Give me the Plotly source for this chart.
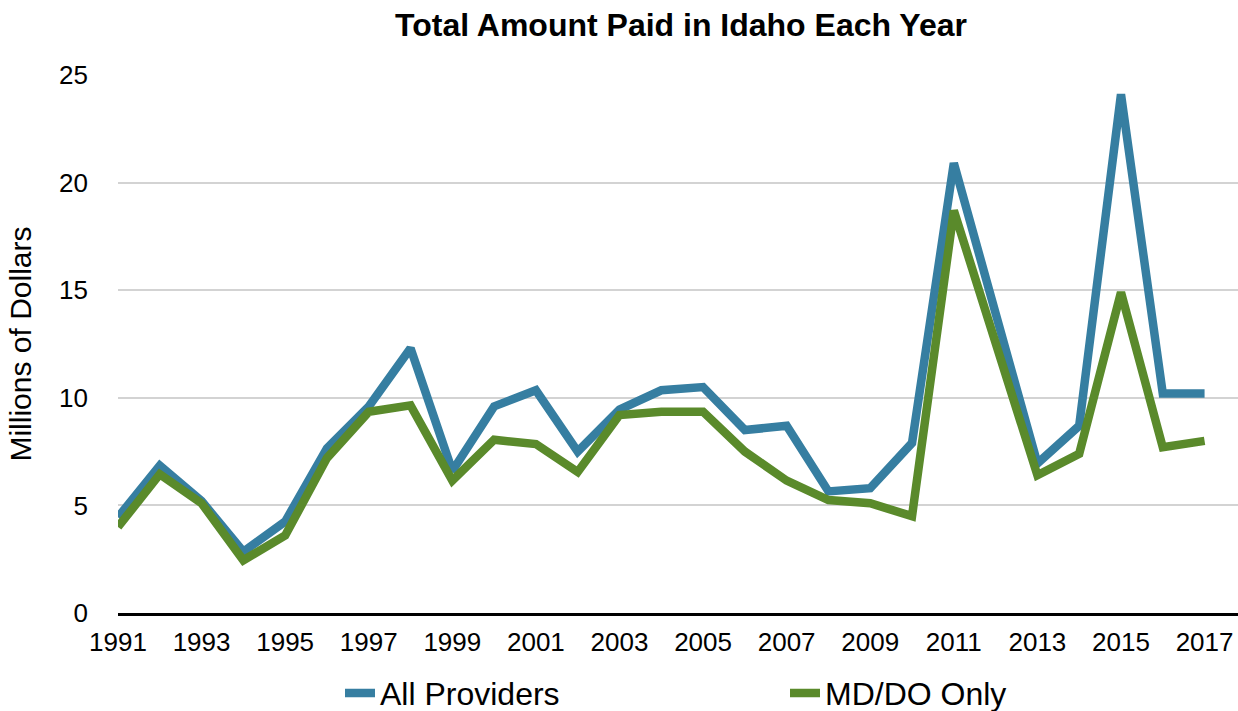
import plotly.graph_objects as go

years = list(range(1991, 2018))
all_providers = [4.45, 6.85, 5.2, 2.85, 4.25, 7.65, 9.6, 12.3, 6.6, 9.6,
                 10.35, 7.5, 9.45, 10.35, 10.5, 8.5, 8.7, 5.65, 5.8, 7.9,
                 20.9, 13.9, 6.95, 8.7, 24.1, 10.2, 10.2]
md_do_only = [4.0, 6.45, 5.1, 2.45, 3.6, 7.2, 9.35, 9.65, 6.15, 8.05,
              7.85, 6.55, 9.2, 9.35, 9.35, 7.5, 6.15, 5.25, 5.1, 4.5,
              18.7, 12.5, 6.4, 7.4, 14.9, 7.7, 8.0]
x_ticks = list(range(1991, 2018, 2))
y_ticks = [0, 5, 10, 15, 20, 25]

FONT = "Helvetica, Liberation Sans, Arial, sans-serif"
BLUE = "#367EA1"
GREEN = "#5A8A2B"

fig = go.Figure()
fig.add_trace(go.Scatter(x=years, y=all_providers, mode="lines", name="All Providers",
                         line=dict(color=BLUE, width=8.5), legend="legend"))
fig.add_trace(go.Scatter(x=years, y=md_do_only, mode="lines", name="MD/DO Only",
                         line=dict(color=GREEN, width=8.5), legend="legend2"))

legend_font = dict(family=FONT, size=32, color="black")
fig.update_layout(
    width=1238, height=711,
    margin=dict(l=118, r=0, t=75, b=98, autoexpand=False),
    paper_bgcolor="white", plot_bgcolor="white",
    font=dict(family=FONT, size=24, color="black"),
    title=dict(text="<b>Total Amount Paid in Idaho Each Year</b>",
               x=(681 / 1238), xanchor="center", y=1 - 25 / 711, yanchor="middle",
               font=dict(family=FONT, size=32, color="black")),
    showlegend=True,
    legend=dict(x=(340 - 118) / 1120, xanchor="left", y=-0.149, yanchor="middle",
                font=legend_font, bgcolor="rgba(0,0,0,0)"),
    legend2=dict(x=(785 - 118) / 1120, xanchor="left", y=-0.149, yanchor="middle",
                 font=legend_font, bgcolor="rgba(0,0,0,0)"),
    xaxis=dict(range=[1991, 2017.8], tickvals=x_ticks, ticktext=[str(t) for t in x_ticks],
               showgrid=False, showline=True, linecolor="black", linewidth=3,
               ticks="", zeroline=False, tickfont=dict(size=26), ticklabelstandoff=4),
    yaxis=dict(range=[0, 25], tickvals=y_ticks, showgrid=True, gridcolor="#D3D3D3",
               gridwidth=1.5, zeroline=False, showline=False, ticks="",
               tickfont=dict(size=26), ticklabelstandoff=29,
               title=dict(text="Millions of Dollars", standoff=18,
                          font=dict(family=FONT, size=30))),
)

fig.write_html("out.html", config={"displayModeBar": False},
               post_script="document.body.style.margin='0';document.body.style.padding='0';")
